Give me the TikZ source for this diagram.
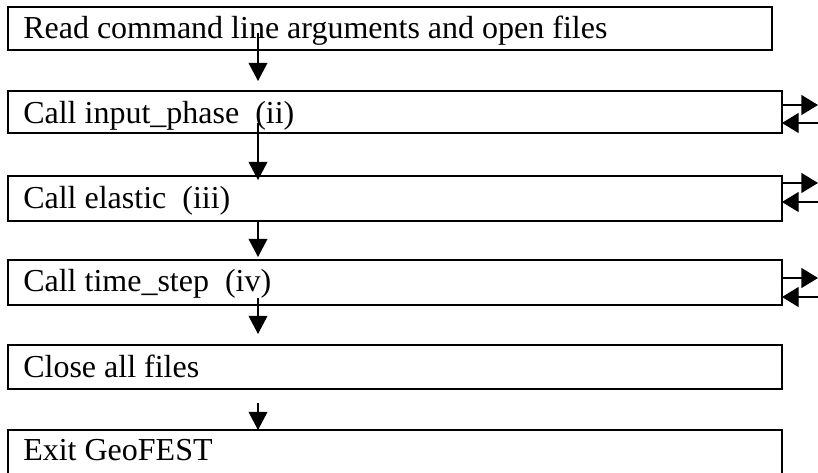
\documentclass[tikz,border=0pt]{standalone}
\usepackage{fontspec}
\setmainfont{Liberation Serif}
\usetikzlibrary{arrows.meta}
\begin{document}
\begin{tikzpicture}[x=0.75pt,y=-0.75pt,
  box/.style={draw, line width=1.5pt, rectangle, inner sep=0pt, outer sep=0pt, anchor=north west, minimum width=580.5pt},
  shadowline/.style={line width=1.6pt, shift={(1.2,1.2)}},
  conn/.style={line width=1pt, -{Triangle[length=13.5pt,width=14pt]}},
  side/.style={line width=1pt, -{Triangle[length=12.5pt,width=15pt]}},
  lbl/.style={anchor=base west, inner sep=0pt, font=\fontsize{24}{28}\selectfont}]
\useasboundingbox (0,0) rectangle (818,473);
% boxes
\node[box, minimum width=573pt, minimum height=31.9pt] (b1) at (8,7.5) {};
\node[box, minimum height=31.5pt] (b2) at (8,91) {};
\node[box, minimum height=33.75pt] (b3) at (8,176) {};
\node[box, minimum height=33.75pt] (b4) at (8,260) {};
\node[box, minimum height=33pt] (b5) at (8,345) {};
\node[box, minimum height=34.5pt] (b6) at (8,430) {};
\foreach \b in {b1,b2,b3,b4,b5,b6}
  \draw[shadowline] (\b.south west) -- (\b.south east) -- (\b.north east);
% labels
\node[lbl] (t1) at (23,39) {Read command line arguments and open files};
\node[lbl] (t2) at (23,124) {Call input\_phase\ \ (ii)};
\node[lbl] (t3) at (23,209) {Call elastic\ \ (iii)};
\node[lbl] (t4) at (23,292) {Call time\_step\ \ (iv)};
\node[lbl] (t5) at (23,378) {Close all files};
\node[lbl] (t6) at (23,461) {Exit GeoFEST};
% vertical connectors
\coordinate (s1) at (258,33);  \coordinate (e1) at (258,81);
\coordinate (s2) at (258,123); \coordinate (e2) at (258,180);
\coordinate (s3) at (258,220); \coordinate (e3) at (258,257);
\coordinate (s4) at (258,298); \coordinate (e4) at (258,334);
\coordinate (s5) at (258,403); \coordinate (e5) at (258,430);
\foreach \i in {1,...,5} \draw[conn] (s\i) -- (e\i);
% side connectors
\foreach \b/\u/\l in {b2/105/123, b3/183/202, b4/278/297}{
  \coordinate (\b o) at (818,\u);
  \coordinate (\b i) at (818,\l);
  \draw[side] (\b.east |- \b o) -- (\b o);
  \draw[side] (\b i) -- (\b.east |- \b i);
}
\end{tikzpicture}
\end{document}
